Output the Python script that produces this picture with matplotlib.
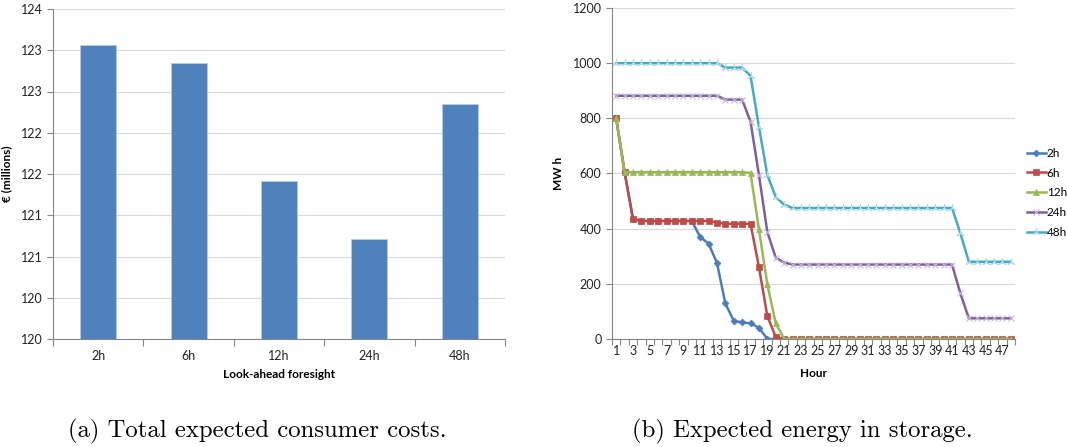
import matplotlib
matplotlib.use("Agg")
import matplotlib.pyplot as plt
import numpy as np

plt.rcParams['font.family'] = ['Lato', 'DejaVu Sans']

# left panel data
foresight = ['2h', '6h', '12h', '24h', '48h']
cost = [123.56, 123.35, 121.91, 121.21, 122.85]
cost_ticks = [120.0, 120.5, 121.0, 121.5, 122.0, 122.5, 123.0, 123.5, 124.0]
cost_tick_labels = ['120', '120', '121', '121', '122', '122', '123', '123', '124']

# right panel data
hours = list(range(1, 49))
storage_2h = [800, 605, 435, 428, 428, 428, 428, 428, 428, 428, 370, 346, 276, 129, 66, 60,
              57, 41, 0, 0, 0, 0, 0, 0, 0, 0, 0, 0, 0, 0, 0, 0,
              0, 0, 0, 0, 0, 0, 0, 0, 0, 0, 0, 0, 0, 0, 0, 0]
storage_6h = [800, 605, 435, 428, 428, 428, 428, 428, 428, 428, 428, 428, 422, 418, 418, 418,
              418, 261, 83, 8, 0, 0, 0, 0, 0, 0, 0, 0, 0, 0, 0, 0,
              0, 0, 0, 0, 0, 0, 0, 0, 0, 0, 0, 0, 0, 0, 0, 0]
storage_12h = [800, 605, 605, 605, 605, 605, 605, 605, 605, 605, 605, 605, 605, 605, 605, 605,
               602, 398, 198, 57, 0, 0, 0, 0, 0, 0, 0, 0, 0, 0, 0, 0,
               0, 0, 0, 0, 0, 0, 0, 0, 0, 0, 0, 0, 0, 0, 0, 0]
storage_24h = [882, 882, 882, 882, 882, 882, 882, 882, 882, 882, 882, 882, 882, 868, 868, 868,
               788, 595, 388, 295, 277, 270, 270, 270, 270, 270, 270, 270, 270, 270, 270, 270,
               270, 270, 270, 270, 270, 270, 270, 270, 270, 165, 75, 75, 75, 75, 75, 75]
storage_48h = [1000, 1000, 1000, 1000, 1000, 1000, 1000, 1000, 1000, 1000, 1000, 1000, 1000, 984, 984, 984,
               954, 770, 595, 515, 487, 475, 475, 475, 475, 475, 475, 475, 475, 475, 475, 475,
               475, 475, 475, 475, 475, 475, 475, 475, 475, 383, 280, 280, 280, 280, 280, 280]
hour_tick_labels = [str(h) for h in range(1, 48, 2)]

W, H = 1067, 447
fig = plt.figure(figsize=(W / 100, H / 100), dpi=100)


def px_axes(left, top, right, bottom):
    return fig.add_axes([left / W, (H - bottom) / H, (right - left) / W, (bottom - top) / H])


axis_gray = '#868686'
grid_gray = '#D9D9D9'
tick_fs = 9
label_fs = 8.5


def style(ax):
    for s in ['top', 'right']:
        ax.spines[s].set_visible(False)
    for s in ['left', 'bottom']:
        ax.spines[s].set_color(axis_gray)
        ax.spines[s].set_linewidth(0.8)
    ax.set_axisbelow(True)
    ax.yaxis.grid(True, color=grid_gray, linewidth=0.8)
    ax.tick_params(axis='both', which='both', colors=axis_gray, labelcolor='#222222',
                   labelsize=tick_fs, direction='out')


# (a) bar chart
ax1 = px_axes(53, 9, 505, 339)
style(ax1)
x = np.arange(len(foresight))
ax1.bar(x, np.array(cost) - 120, bottom=120, width=0.4, color='#4F81BD',
        edgecolor='#B9CDE5', linewidth=0.5)
ax1.set_ylim(120, 124)
ax1.set_xlim(-0.5, len(foresight) - 0.5)
ax1.set_yticks(cost_ticks)
ax1.set_yticklabels(cost_tick_labels)
ax1.set_xticks(np.arange(-0.5, len(foresight), 1.0))
ax1.set_xticklabels([])
ax1.set_xticks(x, minor=True)
ax1.set_xticklabels(foresight, minor=True)
ax1.tick_params(axis='x', which='major', length=5)
ax1.tick_params(axis='x', which='minor', length=0, pad=8)
ax1.tick_params(axis='y', length=4)
ax1.set_xlabel('Look-ahead foresight', fontsize=label_fs, fontweight='bold', labelpad=5)
ax1.set_ylabel('€ (millions)', fontsize=label_fs, fontweight='bold', labelpad=6)

# (b) line chart
ax2 = px_axes(612, 8, 1015, 339)
style(ax2)
series = [
    ('2h', storage_2h, '#4A7EBB', 'D', 3.5),
    ('6h', storage_6h, '#BE4B48', 's', 5),
    ('12h', storage_12h, '#98B954', '^', 5),
    ('24h', storage_24h, '#7D60A0', 'x', 5),
    ('48h', storage_48h, '#46AAC5', (3, 2, 0), 6),
]
for name, vals, c, m, ms in series:
    ax2.plot(hours, vals, color=c, linewidth=1.8, marker=m, markersize=ms,
             markeredgewidth=0.8 if m in ('x', (3, 2, 0)) else 0.5,
             markeredgecolor=c if m not in ('x', (3, 2, 0)) else '#C9B7DC' if name == '24h' else '#A9DCEA',
             label=name)
ax2.set_xlim(0.5, 48.5)
ax2.set_ylim(0, 1200)
ax2.set_yticks(range(0, 1201, 200))
ax2.set_xticks(np.arange(0.5, 49, 1.0))
ax2.set_xticklabels([])
ax2.set_xticks(range(1, 48, 2), minor=True)
ax2.set_xticklabels(hour_tick_labels, minor=True)
ax2.tick_params(axis='x', which='major', length=4)
ax2.tick_params(axis='x', which='minor', length=0, pad=4)
ax2.tick_params(axis='y', length=4)
ax2.set_xlabel('Hour', fontsize=label_fs, fontweight='bold', labelpad=8.5)
ax2.set_ylabel('MW h', fontsize=label_fs, fontweight='bold', labelpad=6)

fig.legend(*ax2.get_legend_handles_labels(), loc='upper left',
           bbox_to_anchor=(1022 / W, (H - 143) / H), frameon=False,
           fontsize=8.5, handlelength=1.6, handletextpad=0.1, labelspacing=0.75,
           borderaxespad=0)

# captions
fig.text(257 / W, (H - 437) / H, '(a) Total expected consumer costs.', family='cmr10',
         fontsize=17.8, ha='center', va='baseline')
fig.text(802 / W, (H - 437) / H, '(b) Expected energy in storage.', family='cmr10',
         fontsize=17.8, ha='center', va='baseline')

fig.savefig('out.png', dpi=100)
